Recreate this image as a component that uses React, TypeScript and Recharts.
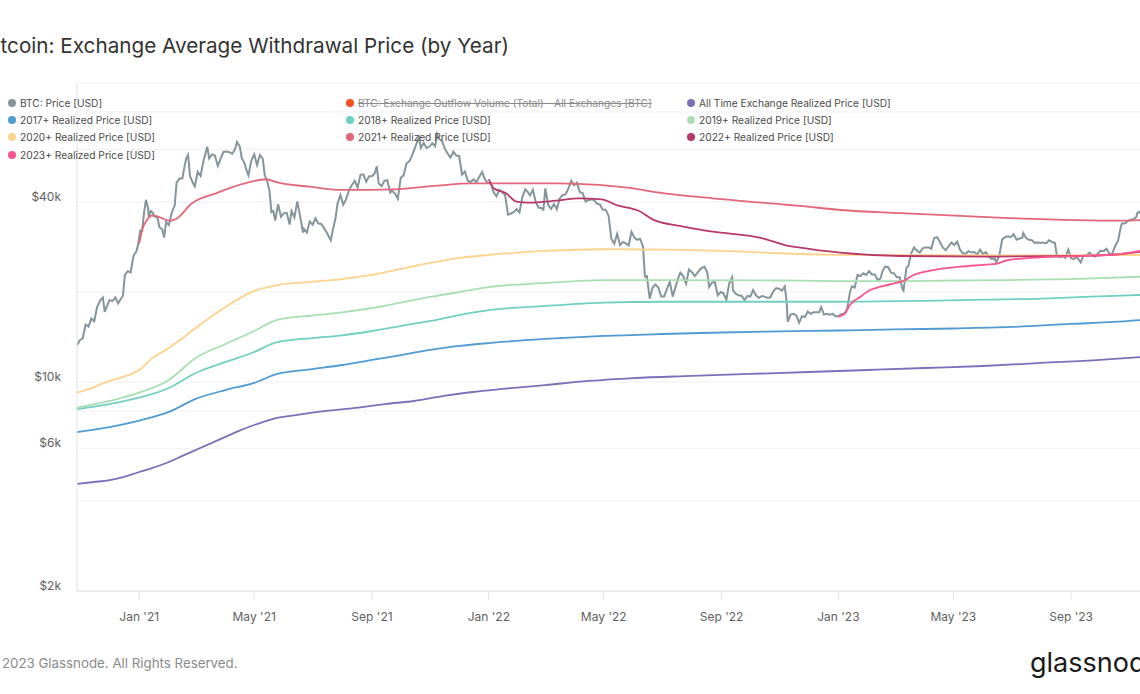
import React from "react";
import { LineChart, Line, XAxis, YAxis, CartesianGrid } from "recharts";

type Pt = [string, number];

// BTC: Price [USD]
const btcPrice: Pt[] = [
  ["2020-10-28", 13280], ["2020-10-31", 13800], ["2020-11-03", 14000], ["2020-11-06", 15580],
  ["2020-11-09", 15310], ["2020-11-12", 16300], ["2020-11-15", 15960], ["2020-11-18", 17800],
  ["2020-11-21", 18680], ["2020-11-24", 19160], ["2020-11-26", 17150], ["2020-11-29", 18180],
  ["2020-12-01", 18800], ["2020-12-04", 18650], ["2020-12-07", 19190], ["2020-12-10", 18330],
  ["2020-12-12", 18800], ["2020-12-15", 19430], ["2020-12-17", 22800], ["2020-12-20", 23480],
  ["2020-12-23", 23240], ["2020-12-26", 26440], ["2020-12-29", 27360], ["2020-12-31", 28990],
  ["2021-01-02", 32100], ["2021-01-04", 31970], ["2021-01-06", 36830], ["2021-01-08", 40670],
  ["2021-01-10", 38360], ["2021-01-11", 35570], ["2021-01-13", 37330], ["2021-01-15", 36830],
  ["2021-01-17", 35790], ["2021-01-20", 35500], ["2021-01-22", 33000], ["2021-01-25", 32370],
  ["2021-01-27", 30430], ["2021-01-29", 34270], ["2021-02-01", 33500], ["2021-02-04", 36900],
  ["2021-02-07", 38900], ["2021-02-09", 46400], ["2021-02-12", 47900], ["2021-02-15", 47900],
  ["2021-02-17", 52100], ["2021-02-19", 55900], ["2021-02-21", 57500], ["2021-02-23", 48800],
  ["2021-02-26", 46300], ["2021-02-28", 45100], ["2021-03-03", 50500], ["2021-03-06", 48900],
  ["2021-03-09", 54800], ["2021-03-13", 61200], ["2021-03-15", 55900], ["2021-03-18", 57700],
  ["2021-03-21", 57200], ["2021-03-24", 52800], ["2021-03-27", 55900], ["2021-03-30", 58900],
  ["2021-04-02", 59000], ["2021-04-05", 58700], ["2021-04-08", 58000], ["2021-04-11", 60000],
  ["2021-04-13", 63500], ["2021-04-16", 61300], ["2021-04-18", 56200], ["2021-04-21", 53800],
  ["2021-04-23", 51100], ["2021-04-25", 49100], ["2021-04-28", 54900], ["2021-05-01", 57800],
  ["2021-05-04", 53200], ["2021-05-07", 57500], ["2021-05-10", 55800], ["2021-05-12", 49200],
  ["2021-05-15", 46400], ["2021-05-17", 43500], ["2021-05-19", 37000], ["2021-05-21", 37300],
  ["2021-05-23", 34700], ["2021-05-26", 39300], ["2021-05-29", 35700], ["2021-06-01", 36700],
  ["2021-06-04", 36800], ["2021-06-07", 33600], ["2021-06-09", 37300], ["2021-06-12", 35500],
  ["2021-06-15", 40200], ["2021-06-18", 35800], ["2021-06-21", 31600], ["2021-06-22", 32500],
  ["2021-06-25", 31600], ["2021-06-28", 34400], ["2021-07-01", 33600], ["2021-07-04", 35300],
  ["2021-07-07", 33900], ["2021-07-10", 33800], ["2021-07-13", 32700], ["2021-07-16", 31500],
  ["2021-07-20", 29800], ["2021-07-22", 32100], ["2021-07-25", 35400], ["2021-07-27", 39500],
  ["2021-07-30", 42200], ["2021-08-02", 39200], ["2021-08-05", 40900], ["2021-08-08", 43800],
  ["2021-08-11", 45600], ["2021-08-14", 47100], ["2021-08-17", 44700], ["2021-08-20", 49300],
  ["2021-08-23", 49500], ["2021-08-26", 46800], ["2021-08-29", 48800], ["2021-09-01", 48800],
  ["2021-09-04", 50000], ["2021-09-06", 52700], ["2021-09-08", 46100], ["2021-09-11", 45200],
  ["2021-09-14", 47100], ["2021-09-17", 47300], ["2021-09-20", 43000], ["2021-09-22", 43600],
  ["2021-09-25", 42700], ["2021-09-28", 41000], ["2021-10-01", 48200], ["2021-10-04", 49100],
  ["2021-10-07", 53800], ["2021-10-10", 54700], ["2021-10-13", 57400], ["2021-10-16", 60900],
  ["2021-10-20", 65900], ["2021-10-22", 60700], ["2021-10-25", 63000], ["2021-10-28", 60600],
  ["2021-10-31", 61300], ["2021-11-03", 62900], ["2021-11-06", 61500], ["2021-11-08", 67500],
  ["2021-11-10", 64900], ["2021-11-13", 64100], ["2021-11-16", 60300], ["2021-11-19", 58100],
  ["2021-11-22", 56300], ["2021-11-25", 58900], ["2021-11-28", 57200], ["2021-12-01", 57000],
  ["2021-12-04", 49400], ["2021-12-07", 50600], ["2021-12-10", 47100], ["2021-12-13", 46700],
  ["2021-12-16", 47600], ["2021-12-19", 46600], ["2021-12-22", 48600], ["2021-12-25", 50400],
  ["2021-12-28", 47500], ["2021-12-31", 46300], ["2022-01-03", 46400], ["2022-01-06", 43100],
  ["2022-01-09", 41800], ["2022-01-12", 43900], ["2022-01-15", 43100], ["2022-01-18", 42200],
  ["2022-01-21", 36300], ["2022-01-24", 36600], ["2022-01-27", 37000], ["2022-01-30", 37900],
  ["2022-02-02", 36900], ["2022-02-05", 41500], ["2022-02-08", 44100], ["2022-02-10", 43500],
  ["2022-02-13", 42100], ["2022-02-16", 43900], ["2022-02-19", 40000], ["2022-02-22", 38200],
  ["2022-02-24", 38300], ["2022-02-27", 37700], ["2022-03-01", 44400], ["2022-03-04", 39100],
  ["2022-03-07", 37900], ["2022-03-10", 39400], ["2022-03-13", 37800], ["2022-03-16", 41100],
  ["2022-03-19", 42200], ["2022-03-22", 42400], ["2022-03-25", 44300], ["2022-03-28", 47100],
  ["2022-03-31", 45500], ["2022-04-03", 46400], ["2022-04-06", 43200], ["2022-04-09", 42800],
  ["2022-04-12", 40100], ["2022-04-15", 40600], ["2022-04-18", 40800], ["2022-04-21", 40500],
  ["2022-04-24", 39500], ["2022-04-27", 39200], ["2022-04-30", 37700], ["2022-05-03", 37700],
  ["2022-05-06", 36000], ["2022-05-09", 30100], ["2022-05-12", 29000], ["2022-05-15", 31300],
  ["2022-05-18", 28700], ["2022-05-21", 29400], ["2022-05-24", 29100], ["2022-05-27", 28600],
  ["2022-05-30", 31800], ["2022-06-02", 30400], ["2022-06-05", 29900], ["2022-06-08", 30100],
  ["2022-06-11", 28400], ["2022-06-13", 22500], ["2022-06-15", 22600], ["2022-06-18", 19000],
  ["2022-06-21", 20700], ["2022-06-24", 21200], ["2022-06-27", 20700], ["2022-06-30", 19300],
  ["2022-07-03", 19300], ["2022-07-06", 20500], ["2022-07-09", 21600], ["2022-07-12", 19300],
  ["2022-07-15", 20800], ["2022-07-18", 22400], ["2022-07-20", 23200], ["2022-07-23", 22600],
  ["2022-07-26", 21300], ["2022-07-29", 23800], ["2022-08-01", 23300], ["2022-08-04", 22600],
  ["2022-08-07", 23200], ["2022-08-10", 23900], ["2022-08-14", 24300], ["2022-08-17", 23300],
  ["2022-08-19", 20800], ["2022-08-22", 21500], ["2022-08-25", 21600], ["2022-08-28", 19500],
  ["2022-08-31", 20000], ["2022-09-03", 19800], ["2022-09-06", 18800], ["2022-09-09", 21400],
  ["2022-09-12", 22400], ["2022-09-13", 20200], ["2022-09-16", 19700], ["2022-09-19", 19500],
  ["2022-09-22", 19400], ["2022-09-25", 18800], ["2022-09-28", 19400], ["2022-10-01", 19300],
  ["2022-10-04", 20300], ["2022-10-07", 19500], ["2022-10-10", 19100], ["2022-10-13", 19400],
  ["2022-10-16", 19300], ["2022-10-19", 19100], ["2022-10-22", 19200], ["2022-10-25", 20100],
  ["2022-10-28", 20600], ["2022-10-31", 20500], ["2022-11-03", 20200], ["2022-11-06", 20900],
  ["2022-11-08", 18500], ["2022-11-09", 15900], ["2022-11-12", 16800], ["2022-11-15", 16900],
  ["2022-11-18", 16700], ["2022-11-21", 15800], ["2022-11-24", 16600], ["2022-11-27", 16500],
  ["2022-11-30", 17200], ["2022-12-03", 16900], ["2022-12-06", 17100], ["2022-12-09", 17100],
  ["2022-12-12", 17100], ["2022-12-14", 17800], ["2022-12-17", 16800], ["2022-12-20", 16900],
  ["2022-12-23", 16800], ["2022-12-26", 16900], ["2022-12-29", 16600], ["2023-01-01", 16600],
  ["2023-01-04", 16850], ["2023-01-07", 16950], ["2023-01-10", 17450], ["2023-01-13", 19900],
  ["2023-01-15", 20900], ["2023-01-18", 20700], ["2023-01-21", 22800], ["2023-01-24", 22600],
  ["2023-01-27", 23100], ["2023-01-30", 22800], ["2023-02-02", 23500], ["2023-02-05", 22900],
  ["2023-02-08", 22900], ["2023-02-11", 21900], ["2023-02-14", 22200], ["2023-02-16", 23500],
  ["2023-02-19", 24300], ["2023-02-22", 24200], ["2023-02-25", 23200], ["2023-02-28", 23100],
  ["2023-03-03", 22400], ["2023-03-06", 22400], ["2023-03-09", 20400], ["2023-03-10", 20200],
  ["2023-03-13", 24100], ["2023-03-15", 24400], ["2023-03-18", 26900], ["2023-03-21", 28200],
  ["2023-03-24", 27500], ["2023-03-27", 27100], ["2023-03-30", 28000], ["2023-04-02", 28200],
  ["2023-04-05", 28200], ["2023-04-08", 27900], ["2023-04-11", 30300], ["2023-04-14", 30500],
  ["2023-04-17", 29400], ["2023-04-20", 28200], ["2023-04-23", 27600], ["2023-04-26", 28400],
  ["2023-04-29", 29300], ["2023-05-02", 28700], ["2023-05-05", 29500], ["2023-05-08", 27700],
  ["2023-05-11", 26900], ["2023-05-14", 26900], ["2023-05-17", 27400], ["2023-05-20", 27100],
  ["2023-05-23", 27200], ["2023-05-26", 26700], ["2023-05-29", 27700], ["2023-06-01", 26800],
  ["2023-06-04", 27200], ["2023-06-07", 26300], ["2023-06-10", 25800], ["2023-06-13", 25900],
  ["2023-06-15", 25100], ["2023-06-18", 26500], ["2023-06-21", 30000], ["2023-06-24", 30500],
  ["2023-06-27", 30700], ["2023-06-30", 30500], ["2023-07-03", 31200], ["2023-07-06", 29900],
  ["2023-07-09", 30200], ["2023-07-12", 30400], ["2023-07-13", 31500], ["2023-07-16", 30300],
  ["2023-07-19", 29900], ["2023-07-22", 29800], ["2023-07-25", 29200], ["2023-07-28", 29300],
  ["2023-07-31", 29200], ["2023-08-03", 29200], ["2023-08-06", 29100], ["2023-08-09", 29800],
  ["2023-08-12", 29400], ["2023-08-15", 29200], ["2023-08-17", 26600], ["2023-08-20", 26100],
  ["2023-08-23", 26400], ["2023-08-26", 26000], ["2023-08-29", 27700], ["2023-09-01", 25900],
  ["2023-09-04", 25800], ["2023-09-07", 26200], ["2023-09-11", 25100], ["2023-09-14", 26500],
  ["2023-09-17", 26500], ["2023-09-20", 27100], ["2023-09-23", 26600], ["2023-09-26", 26300],
  ["2023-09-29", 26900], ["2023-10-02", 27500], ["2023-10-05", 27400], ["2023-10-08", 27900],
  ["2023-10-11", 26800], ["2023-10-14", 26900], ["2023-10-17", 28500], ["2023-10-20", 29700],
  ["2023-10-23", 33100], ["2023-10-24", 33900], ["2023-10-27", 33900], ["2023-10-30", 34500],
  ["2023-11-02", 34900], ["2023-11-05", 35000], ["2023-11-08", 35600], ["2023-11-09", 36700],
  ["2023-11-11", 37100], ["2023-11-13", 36500],
];

const allTimeRealized: Pt[] = [
  ["2020-10-28", 4560], ["2020-11-15", 4630], ["2020-12-01", 4700], ["2020-12-15", 4810],
  ["2021-01-01", 5000], ["2021-01-15", 5160], ["2021-02-01", 5400], ["2021-02-15", 5660],
  ["2021-03-01", 5925], ["2021-03-15", 6200], ["2021-04-01", 6550], ["2021-04-15", 6860],
  ["2021-05-01", 7180], ["2021-05-20", 7520], ["2021-06-15", 7760], ["2021-07-15", 8000],
  ["2021-08-15", 8190], ["2021-09-15", 8440], ["2021-10-15", 8640], ["2021-11-15", 8980],
  ["2021-12-15", 9260], ["2022-01-15", 9480], ["2022-03-01", 9770], ["2022-04-15", 10080],
  ["2022-06-01", 10310], ["2022-08-01", 10480], ["2022-10-01", 10640], ["2022-12-01", 10800],
  ["2023-02-01", 10970], ["2023-04-01", 11140], ["2023-06-01", 11310], ["2023-08-01", 11580],
  ["2023-10-01", 11850], ["2023-11-14", 12130],
];

const realized2017: Pt[] = [
  ["2020-10-28", 6800], ["2020-12-01", 7070], ["2021-01-01", 7430], ["2021-02-01", 7940],
  ["2021-03-01", 8780], ["2021-04-01", 9400], ["2021-05-01", 9930], ["2021-05-25", 10640],
  ["2021-07-01", 11050], ["2021-08-01", 11400], ["2021-09-01", 11850], ["2021-10-01", 12310],
  ["2021-11-01", 12800], ["2021-12-01", 13200], ["2022-01-01", 13500], ["2022-03-01", 13930],
  ["2022-05-01", 14260], ["2022-07-01", 14470], ["2022-09-01", 14640], ["2022-11-01", 14760],
  ["2023-01-01", 14870], ["2023-03-01", 14990], ["2023-05-01", 15100], ["2023-07-01", 15280],
  ["2023-09-01", 15640], ["2023-10-15", 15880], ["2023-11-14", 16130],
];

const realized2018: Pt[] = [
  ["2020-10-28", 8120], ["2020-12-01", 8440], ["2021-01-01", 8860], ["2021-02-01", 9550],
  ["2021-03-01", 10720], ["2021-04-01", 11670], ["2021-05-01", 12600], ["2021-05-25", 13600],
  ["2021-07-01", 14030], ["2021-08-01", 14330], ["2021-09-01", 14810], ["2021-10-01", 15390],
  ["2021-11-01", 16000], ["2021-12-01", 16750], ["2022-01-01", 17400], ["2022-03-01", 17960],
  ["2022-05-01", 18420], ["2022-07-01", 18550], ["2022-09-01", 18550], ["2023-01-01", 18550],
  ["2023-04-01", 18690], ["2023-06-01", 18850], ["2023-08-01", 19000], ["2023-09-15", 19250],
  ["2023-11-14", 19550],
];

const realized2019: Pt[] = [
  ["2020-10-28", 8200], ["2020-12-01", 8640], ["2021-01-01", 9210], ["2021-02-01", 10160],
  ["2021-03-01", 12040], ["2021-04-01", 13400], ["2021-05-01", 14810], ["2021-05-25", 16130],
  ["2021-07-01", 16690], ["2021-08-01", 17090], ["2021-09-01", 17680], ["2021-10-01", 18420],
  ["2021-11-01", 19250], ["2021-12-01", 20000], ["2022-01-01", 20780], ["2022-03-01", 21440],
  ["2022-05-01", 21930], ["2022-07-01", 21930], ["2022-11-01", 21850], ["2023-01-01", 21760],
  ["2023-03-01", 21760], ["2023-05-01", 21850], ["2023-07-01", 21930], ["2023-09-01", 22100],
  ["2023-11-14", 22500],
];

const realized2020: Pt[] = [
  ["2020-10-28", 9210], ["2020-11-15", 9620], ["2020-12-01", 10080], ["2020-12-15", 10400],
  ["2021-01-01", 10970], ["2021-01-15", 12040], ["2021-02-01", 13000], ["2021-03-01", 15160],
  ["2021-04-01", 17820], ["2021-05-01", 20160], ["2021-05-25", 21100], ["2021-07-01", 21650],
  ["2021-08-01", 22100], ["2021-09-01", 22810], ["2021-10-01", 23880], ["2021-11-01", 25010],
  ["2021-12-01", 25990], ["2022-01-01", 26600], ["2022-03-01", 27440], ["2022-05-01", 27800],
  ["2022-07-01", 27700], ["2022-09-01", 27440], ["2022-11-01", 26950], ["2023-01-01", 26600],
  ["2023-07-01", 26490], ["2023-11-14", 26600],
];

const realized2021: Pt[] = [
  ["2021-01-01", 29090], ["2021-01-04", 32240], ["2021-01-09", 34820], ["2021-01-14", 36010],
  ["2021-01-19", 35900], ["2021-02-01", 34630], ["2021-02-08", 35030], ["2021-02-25", 39600],
  ["2021-03-22", 42770], ["2021-04-19", 45970], ["2021-05-14", 47650], ["2021-05-24", 46570],
  ["2021-06-28", 45010], ["2021-08-02", 43880], ["2021-09-24", 44100], ["2021-11-08", 45350],
  ["2021-12-13", 46190], ["2022-03-15", 46190], ["2022-04-26", 45600], ["2022-06-07", 44100],
  ["2022-06-28", 42970], ["2022-08-23", 41150], ["2022-11-11", 39080], ["2022-11-22", 38800],
  ["2023-01-03", 37610], ["2023-03-07", 36690], ["2023-06-17", 35450], ["2023-10-23", 34630],
  ["2023-11-14", 34820],
];

const realized2022: Pt[] = [
  ["2022-01-01", 47650], ["2022-01-06", 44440], ["2022-01-19", 42770], ["2022-01-30", 40090],
  ["2022-02-11", 39790], ["2022-03-12", 40400], ["2022-04-05", 41150], ["2022-04-29", 40840],
  ["2022-05-14", 39080], ["2022-06-07", 37320], ["2022-06-21", 35000], ["2022-07-19", 33250],
  ["2022-08-23", 31830], ["2022-10-14", 30250], ["2022-11-06", 28720], ["2022-11-22", 28140],
  ["2023-01-03", 27080], ["2023-03-07", 26390], ["2023-06-08", 26250], ["2023-09-01", 26390],
  ["2023-10-02", 26500], ["2023-11-14", 27280],
];

const realized2023: Pt[] = [
  ["2023-01-01", 16540], ["2023-01-08", 16980], ["2023-01-13", 18090], ["2023-01-24", 19290],
  ["2023-02-03", 20300], ["2023-02-14", 20830], ["2023-03-07", 21650], ["2023-03-12", 21930],
  ["2023-03-17", 22500], ["2023-04-07", 23570], ["2023-05-08", 24300], ["2023-06-08", 24750],
  ["2023-06-17", 24940], ["2023-06-24", 25440], ["2023-07-31", 26130], ["2023-09-11", 26390],
  ["2023-10-23", 26800], ["2023-11-14", 27500],
];

const yTicks = [2000, 4000, 6000, 8000, 10000, 20000, 40000, 60000, 80000];
const yTickLabels: Record<number, string> = { 2000: "$2k", 6000: "$6k", 10000: "$10k", 40000: "$40k" };
const xTickDates = [
  "2021-01-01", "2021-05-01", "2021-09-01", "2022-01-01", "2022-05-01",
  "2022-09-01", "2023-01-01", "2023-05-01", "2023-09-01",
];
const xTickLabels = ["Jan '21", "May '21", "Sep '21", "Jan '22", "May '22", "Sep '22", "Jan '23", "May '23", "Sep '23"];

const toRows = (pts: Pt[]) => pts.map(([d, v]) => ({ t: Date.parse(d), v }));

const series = [
  { name: "BTC: Price [USD]", color: "#84959b", data: btcPrice, width: 2, curve: "linear" },
  { name: "All Time Exchange Realized Price [USD]", color: "#7e6fba", data: allTimeRealized, width: 1.8, curve: "monotone" },
  { name: "2017+ Realized Price [USD]", color: "#4f9bd2", data: realized2017, width: 1.8, curve: "monotone" },
  { name: "2018+ Realized Price [USD]", color: "#6fd0c1", data: realized2018, width: 1.8, curve: "monotone" },
  { name: "2019+ Realized Price [USD]", color: "#a8e0b2", data: realized2019, width: 1.8, curve: "monotone" },
  { name: "2020+ Realized Price [USD]", color: "#fdd28c", data: realized2020, width: 1.8, curve: "monotone" },
  { name: "2021+ Realized Price [USD]", color: "#e2677a", data: realized2021, width: 1.8, curve: "monotone" },
  { name: "2022+ Realized Price [USD]", color: "#b8386a", data: realized2022, width: 1.8, curve: "monotone" },
  { name: "2023+ Realized Price [USD]", color: "#f9568b", data: realized2023, width: 1.8, curve: "monotone" },
];

// legend in the glassnode order, three columns
const legendItems = [
  { name: "BTC: Price [USD]", color: "#84959b" },
  { name: "BTC: Exchange Outflow Volume (Total) - All Exchanges [BTC]", color: "#f4511e", off: true },
  { name: "All Time Exchange Realized Price [USD]", color: "#7e6fba" },
  { name: "2017+ Realized Price [USD]", color: "#4f9bd2" },
  { name: "2018+ Realized Price [USD]", color: "#6fd0c1" },
  { name: "2019+ Realized Price [USD]", color: "#a8e0b2" },
  { name: "2020+ Realized Price [USD]", color: "#fdd28c" },
  { name: "2021+ Realized Price [USD]", color: "#e2677a" },
  { name: "2022+ Realized Price [USD]", color: "#b8386a" },
  { name: "2023+ Realized Price [USD]", color: "#f9568b" },
];
const legendCols = [8, 346, 687];

const YTick = (props: any) => {
  const { x, y, payload } = props;
  const label = yTickLabels[payload.value];
  if (!label) return <g />;
  return (
    <text x={x} y={y} dy={-1} textAnchor="end" fontSize={12} fill="#5f5f5f" fontFamily="Inter">
      {label}
    </text>
  );
};

export default function App() {
  const xDomain = [Date.parse("2020-10-28"), Date.parse("2023-11-14")];
  const xTicks = xTickDates.map((d) => Date.parse(d));
  const fmtX = (t: number) => xTickLabels[xTicks.indexOf(t)] ?? "";

  return (
    <div
      style={{
        position: "fixed", left: 0, top: 0, width: 1140, height: 694,
        overflow: "hidden", background: "#fff", fontFamily: "Inter, sans-serif",
      }}
    >
      <svg width={1140} height={694} style={{ position: "absolute", left: 0, top: 0 }}>
        <text x={-18} y={53} fontSize={20.7} fill="#333" fontFamily="Inter">
          Bitcoin: Exchange Average Withdrawal Price (by Year)
        </text>
        <text x={-14} y={668} fontSize={13.3} fill="#8a8a8a" fontFamily="Inter">
          © 2023 Glassnode. All Rights Reserved.
        </text>
        <text x={1030} y={672} fontSize={27} fill="#1a1a1a" fontFamily="Inter" fontWeight={400}>
          glassnode
        </text>
      </svg>

      <div style={{ position: "absolute", left: 0, top: 0 }}>
        <LineChart width={1142} height={694} margin={{ top: 83, right: 0, bottom: 73, left: 0 }}>
          <CartesianGrid vertical={false} stroke="#f0f0f0" />
          <XAxis
            dataKey="t"
            type="number"
            domain={xDomain}
            allowDataOverflow
            ticks={xTicks}
            tickFormatter={fmtX}
            height={30}
            tickSize={9}
            tickMargin={12}
            axisLine={{ stroke: "#e2e2e2" }}
            tickLine={{ stroke: "#e2e2e2" }}
            tick={{ fontSize: 12, fill: "#5f5f5f", fontFamily: "Inter" }}
          />
          <YAxis
            type="number"
            scale="log"
            domain={[2000, 100000]}
            allowDataOverflow
            ticks={yTicks}
            width={77}
            tickSize={0}
            tickMargin={16}
            tickLine={false}
            axisLine={{ stroke: "#e2e2e2" }}
            tick={<YTick />}
            interval={0}
          />
          {series.map((s) => (
            <Line
              key={s.name}
              name={s.name}
              data={toRows(s.data)}
              dataKey="v"
              type={s.curve as any}
              stroke={s.color}
              strokeWidth={s.width}
              dot={false}
              isAnimationActive={false}
            />
          ))}
        </LineChart>
      </div>

      <div style={{ position: "absolute", left: 0, top: 94, fontSize: 10.2, color: "#4a4a4a" }}>
        {legendItems.map((it, i) => (
          <div
            key={it.name}
            style={{
              position: "absolute",
              left: legendCols[i % 3],
              top: Math.floor(i / 3) * 17.3,
              height: 17.3,
              display: "flex",
              alignItems: "center",
              whiteSpace: "nowrap",
            }}
          >
            <span
              style={{
                width: 8, height: 8, borderRadius: 4, background: it.color,
                marginRight: 4, display: "inline-block",
              }}
            />
            <span style={it.off ? { textDecoration: "line-through", color: "#8a8a8a" } : undefined}>
              {it.name}
            </span>
          </div>
        ))}
      </div>
    </div>
  );
}
